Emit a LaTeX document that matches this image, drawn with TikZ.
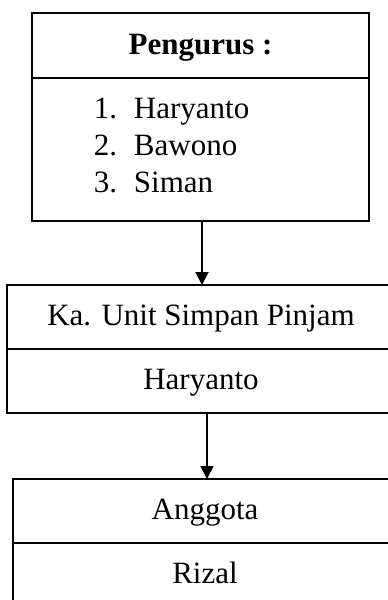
\documentclass[tikz,border=0pt]{standalone}
\usepackage{fontspec}
\setmainfont{Liberation Serif}
\usetikzlibrary{arrows.meta}
\begin{document}
\begin{tikzpicture}[x=1pt,y=-1pt, line width=1.9pt,
  cell/.style={draw, inner sep=0pt, outer sep=0pt, text height=21pt, text depth=4pt, font=\fontsize{31}{37}\selectfont},
  txt/.style={inner sep=0pt, anchor=base west, font=\fontsize{31}{37}\selectfont},
  arr/.style={-{Triangle[length=13pt,width=13pt]}}]
\useasboundingbox (0,0) rectangle (388,600);
\clip (0,0) rectangle (388,600);
% Box 1
\node[cell, minimum width=337pt, minimum height=65pt] (p1) at (200.5,45.5) {\bfseries Pengurus :};
\node[cell, minimum width=337pt, minimum height=143pt, anchor=north] (p2) at (p1.south) {};
\node[txt] (n1) at (93,118) {1.};
\node[txt] (h1) at (133,118) {Haryanto};
\node[txt] (n2) at (93,155) {2.};
\node[txt] (h2) at (133,155) {Bawono};
\node[txt] (n3) at (93,192) {3.};
\node[txt] (h3) at (133,192) {Siman};
% Box 2
\node[cell, minimum width=388pt, minimum height=64pt] (k1) at (201,317) {Ka. Unit Simpan Pinjam};
\node[cell, minimum width=388pt, minimum height=64pt, anchor=north] (k2) at (k1.south) {Haryanto};
% Box 3
\node[cell, minimum width=384pt, minimum height=64pt] (a1) at (205,511) {Anggota};
\node[cell, minimum width=384pt, minimum height=64pt, anchor=north] (a2) at (a1.south) {Rizal};
% Arrows
\draw[arr] ([xshift=1.5pt]p2.south) -- ([xshift=1.5pt]p2.south |- k1.north);
\draw[arr] ([xshift=6pt]k2.south) -- ([xshift=6pt]k2.south |- a1.north);
\end{tikzpicture}
\end{document}
